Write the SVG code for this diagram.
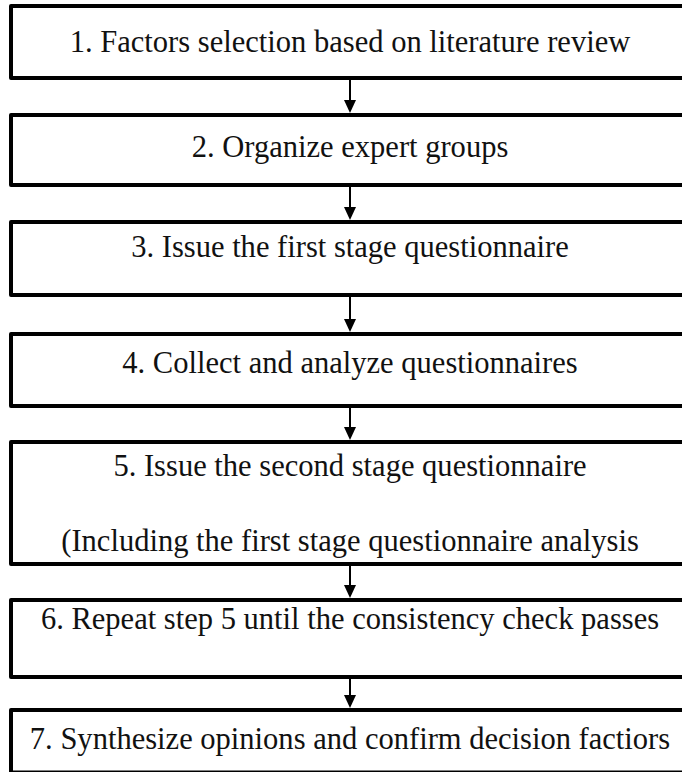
<svg xmlns="http://www.w3.org/2000/svg" width="682" height="772" viewBox="0 0 682 772">
<style>
.box{fill:#fff;stroke:#000;stroke-width:4;stroke-linejoin:round}
text{font-family:'Liberation Serif','Times New Roman',serif;font-size:32px;fill:#111;text-anchor:middle}
</style>
<rect width="682" height="772" fill="#fff"/>
<g id="n1"><rect class="box" x="11" y="6" width="700" height="72"/><text transform="translate(350 52) scale(0.955 1)">1.  Factors selection based on literature review</text></g>
<g id="n2"><rect class="box" x="11" y="115" width="700" height="70"/><text transform="translate(350 157) scale(0.955 1)">2. Organize expert groups</text></g>
<g id="n3"><rect class="box" x="11" y="222" width="700" height="73"/><text transform="translate(350 257) scale(0.955 1)">3. Issue the first stage questionnaire</text></g>
<g id="n4"><rect class="box" x="11" y="334" width="700" height="72"/><text transform="translate(350 373) scale(0.955 1)">4. Collect and analyze questionnaires</text></g>
<g id="n5"><rect class="box" x="11" y="442" width="700" height="122"/><text transform="translate(350 476) scale(0.955 1)">5. Issue the second stage questionnaire</text><text transform="translate(350 551) scale(0.955 1)">(Including the first stage questionnaire analysis</text></g>
<g id="n6"><rect class="box" x="11" y="600" width="700" height="77"/><text transform="translate(350 629) scale(0.955 1)">6. Repeat step 5 until the consistency check passes</text></g>
<g id="n7"><rect class="box" x="11" y="710" width="700" height="62.5"/><text transform="translate(350 749) scale(0.955 1)">7. Synthesize opinions and confirm decision factiors</text></g>
<g id="connectors" fill="#000" stroke="#000">
<line x1="350" y1="80" x2="350" y2="101" stroke-width="2"/><path d="M344,100 L356,100 L350,113 Z" stroke="none"/>
<line x1="350" y1="187" x2="350" y2="208" stroke-width="2"/><path d="M344,207 L356,207 L350,220 Z" stroke="none"/>
<line x1="350" y1="297" x2="350" y2="320" stroke-width="2"/><path d="M344,319 L356,319 L350,332 Z" stroke="none"/>
<line x1="350" y1="408" x2="350" y2="428" stroke-width="2"/><path d="M344,427 L356,427 L350,440 Z" stroke="none"/>
<line x1="350" y1="566" x2="350" y2="586" stroke-width="2"/><path d="M344,585 L356,585 L350,598 Z" stroke="none"/>
<line x1="350" y1="679" x2="350" y2="696" stroke-width="2"/><path d="M344,695 L356,695 L350,708 Z" stroke="none"/>
</g>
</svg>
